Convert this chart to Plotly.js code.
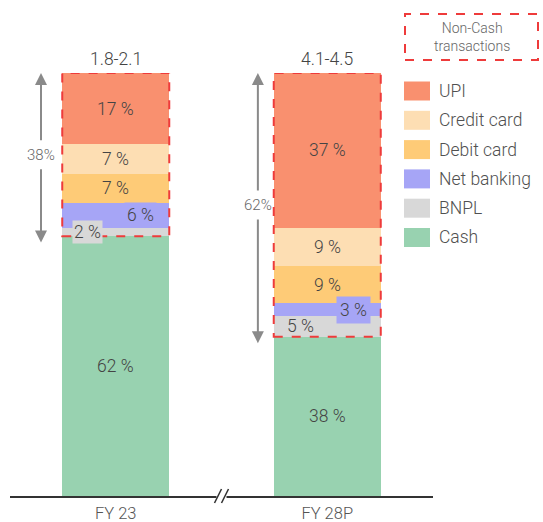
<!DOCTYPE html>
<html>
<head>
<meta charset="utf-8">
<script src="https://cdn.plot.ly/plotly-3.0.1.min.js"></script>
<style>html,body{margin:0;padding:0;background:#fff}#chart{width:543px;height:522px}</style>
</head>
<body>
<div id="chart"></div>
<script>
// ---- data ----
const categories = ["FY 23", "FY 28P"];
const seriesNames = ["Cash", "BNPL", "Net banking", "Debit card", "Credit card", "UPI"];
const cash = [62, 38];
const bnpl = [2, 5];
const netBanking = [6, 3];
const debitCard = [7, 9];
const creditCard = [7, 9];
const upi = [17, 37];
const totalLabels = ["1.8-2.1", "4.1-4.5"];
const nonCashLabels = ["38%", "62%"];

const seriesValues = [cash, bnpl, netBanking, debitCard, creditCard, upi];
const colors = ["#98D2B0", "#D8D8D8", "#A6A5F6", "#FECB77", "#FDDEB3", "#F9906F"];

const BARW = 0.506;
const FONT = "Roboto, 'Open Sans', sans-serif";
const TXT = "#444";
const FS = 17.5;

const traces = seriesNames.map((n, i) => ({
  type: "bar", name: n, x: categories, y: seriesValues[i],
  marker: {color: colors[i], line: {width: 0}},
  width: BARW, hoverinfo: "skip", showlegend: false
}));

const annotations = [];
const shapes = [];

// segment labels (small segments get shifted labels with a background box)
const specialShift = {
  "1|0": [-28, "#D8D8D8", 1, 0],
  "2|0": [25, "#A6A5F6", 2, 0],
  "1|1": [-27, null, 0, 0],
  "2|1": [26, "#A6A5F6", 3, 0]
};
categories.forEach((c, ci) => {
  let base = 0;
  seriesValues.forEach((vals, si) => {
    const v = vals[ci];
    const sp = specialShift[si + "|" + ci];
    const a = {
      x: ci, y: base + v / 2, xref: "x", yref: "y", text: v + " %", showarrow: false,
      font: {family: FONT, size: FS, color: TXT, weight: 300}
    };
    if (sp) {
      a.xshift = sp[0];
      if (sp[1]) { a.bgcolor = sp[1]; a.borderpad = sp[2]; }
    }
    annotations.push(a);
    base += v;
  });
  const total = base;
  // totals on top
  annotations.push({x: ci, y: total, xref: "x", yref: "y", yanchor: "bottom", yshift: 2,
    text: totalLabels[ci], showarrow: false, font: {family: FONT, size: FS, color: TXT, weight: 300}});
  // dashed non-cash box
  shapes.push({type: "rect", xref: "x", yref: "y", x0: ci - BARW / 2, x1: ci + BARW / 2,
    y0: cash[ci], y1: total, line: {color: "#EE3B3B", width: 2, dash: "dash"}, fillcolor: "rgba(0,0,0,0)"});
  // double arrow
  const axX = [0.0733, 0.586][ci];
  const mid = (cash[ci] + total) / 2;
  const arrowCommon = {xref: "paper", yref: "y", axref: "pixel", ayref: "y", x: axX, ax: 0, ay: mid,
    showarrow: true, arrowhead: 2, arrowsize: 1.2, arrowwidth: 2, arrowcolor: "#8a8a8a",
    font: {family: FONT, size: 15, color: "#666", weight: 300}, startstandoff: 4};
  annotations.push(Object.assign({}, arrowCommon, {y: total, text: nonCashLabels[ci]}));
  annotations.push(Object.assign({}, arrowCommon, {y: cash[ci] - 1.5, text: nonCashLabels[ci],
    font: {family: FONT, size: 15, color: "rgba(0,0,0,0)"}}));
});

// custom legend
const legendOrder = seriesNames.slice().reverse();
const legendColors = colors.slice().reverse();
const px2x = px => (px - 10) / 423;
const px2y = py => (496 - py) / 423;
legendOrder.forEach((n, i) => {
  const cy = 91 + i * 29.3;
  shapes.push({type: "rect", xref: "paper", yref: "paper", x0: px2x(404), x1: px2x(430),
    y0: px2y(cy + 9.5), y1: px2y(cy - 9.5), fillcolor: legendColors[i], line: {width: 0}});
  annotations.push({xref: "paper", yref: "paper", x: px2x(437), y: px2y(cy), xanchor: "left",
    yanchor: "middle", text: n, showarrow: false, font: {family: FONT, size: FS, color: "#505050", weight: 300}});
});
// non-cash legend box
shapes.push({type: "rect", xref: "paper", yref: "paper", x0: px2x(405), x1: px2x(538),
  y0: px2y(60), y1: px2y(14), line: {color: "#EE3B3B", width: 2, dash: "dash"}, fillcolor: "rgba(0,0,0,0)"});
annotations.push({xref: "paper", yref: "paper", x: px2x(471.5), y: px2y(37), xanchor: "center", yanchor: "middle",
  text: "Non-Cash<br>transactions", showarrow: false, align: "center",
  font: {family: FONT, size: 14, color: "#666", weight: 300}});

// axis break marks
shapes.push({type: "rect", xref: "paper", yref: "paper", xsizemode: "pixel", ysizemode: "pixel",
  xanchor: 0.5, yanchor: 0, x0: -5, x1: 5, y0: -2, y1: 2, fillcolor: "#fff", line: {width: 0}});
[-3.5, 3.5].forEach(dx => {
  shapes.push({type: "line", xref: "paper", yref: "paper", xsizemode: "pixel", ysizemode: "pixel",
    xanchor: 0.5, yanchor: 0, x0: dx - 3.5, x1: dx + 3.5, y0: -7, y1: 7, line: {color: "#333", width: 1.5}});
});

const layout = {
  width: 543, height: 522,
  margin: {l: 10, r: 110, t: 73, b: 26, pad: 0},
  paper_bgcolor: "#fff", plot_bgcolor: "#fff",
  barmode: "stack", showlegend: false,
  xaxis: {type: "category", range: [-0.5, 1.5], showline: true, linecolor: "#333", linewidth: 1.5,
    ticks: "", showgrid: false, zeroline: false, fixedrange: true, ticklabelstandoff: 2,
    tickfont: {family: FONT, size: 16.5, color: "#555", weight: 300}},
  yaxis: {range: [0, 101], visible: false, showgrid: false, zeroline: false, fixedrange: true},
  annotations: annotations, shapes: shapes,
  font: {family: FONT}
};

Plotly.newPlot("chart", traces, layout, {displayModeBar: false, staticPlot: true});
</script>
</body>
</html>
